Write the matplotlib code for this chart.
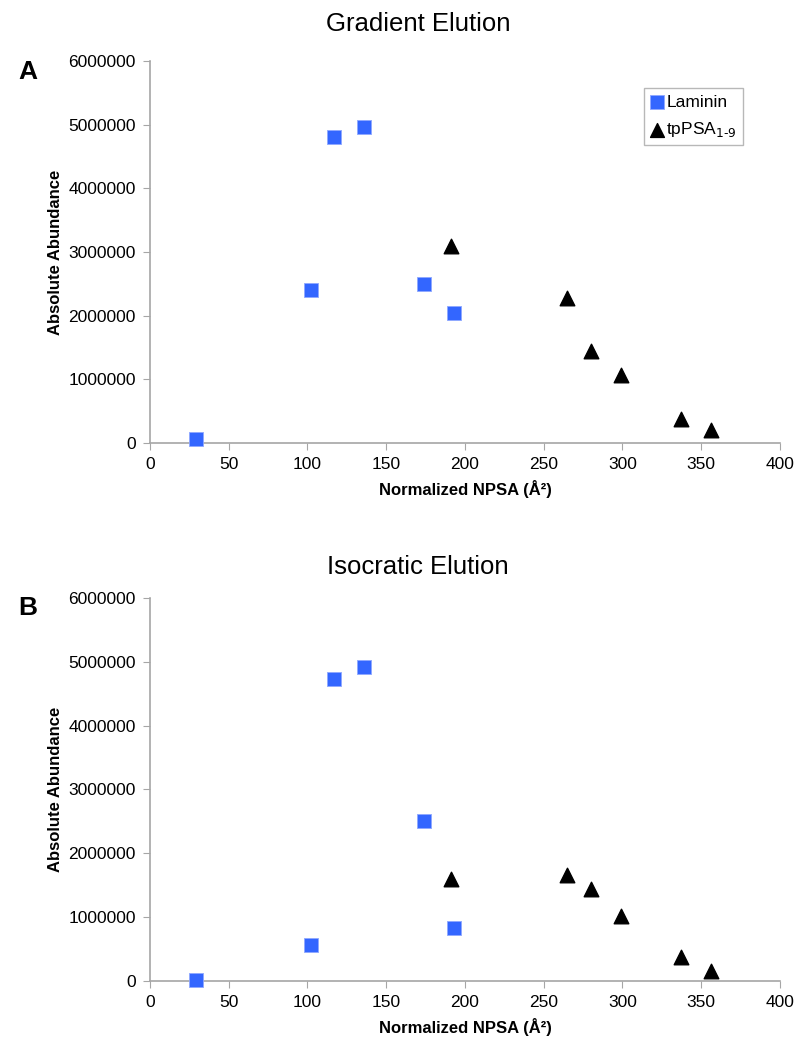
import matplotlib.pyplot as plt

plt.rcParams['font.family'] = ['Liberation Sans', 'DejaVu Sans']

# Gradient elution
grad_lam_x = [29, 102, 117, 136, 174, 193]
grad_lam_y = [72000, 2400000, 4810000, 4970000, 2500000, 2040000]
grad_tp_x = [191, 265, 280, 299, 337, 356]
grad_tp_y = [3100000, 2280000, 1450000, 1070000, 380000, 200000]

# Isocratic elution
iso_lam_x = [29, 102, 117, 136, 174, 193]
iso_lam_y = [20000, 560000, 4730000, 4920000, 2500000, 830000]
iso_tp_x = [191, 265, 280, 299, 337, 356]
iso_tp_y = [1600000, 1660000, 1440000, 1020000, 380000, 150000]

fig = plt.figure(figsize=(8.1, 10.5), dpi=100)
ax1 = fig.add_axes([0.185, 0.578, 0.778, 0.364])
ax2 = fig.add_axes([0.185, 0.0657, 0.778, 0.3648])

gray = '#a6a6a6'
panels = [
    (ax1, grad_lam_x, grad_lam_y, grad_tp_x, grad_tp_y, 'Gradient Elution', 'A', 24, 72),
    (ax2, iso_lam_x, iso_lam_y, iso_tp_x, iso_tp_y, 'Isocratic Elution', 'B', 567, 608),
]
for ax, lx, ly, tx, ty, title, letter, ty_px, ly_px in panels:
    ax.scatter(lx, ly, marker='s', s=115, color='#3366ff', edgecolors='#8fa8ff',
               linewidths=0.6, label='Laminin', zorder=3, clip_on=False)
    ax.scatter(tx, ty, marker='^', s=110, color='black', label='tpPSA$_{1\u20109}$',
               zorder=3, clip_on=False)
    ax.set_xlim(0, 400)
    ax.set_ylim(0, 6000000)
    ax.set_xticks(range(0, 401, 50))
    ax.set_yticks(range(0, 6000001, 1000000))
    ax.set_yticklabels([str(v) for v in range(0, 6000001, 1000000)])
    ax.spines['top'].set_visible(False)
    ax.spines['right'].set_visible(False)
    for s in ('left', 'bottom'):
        ax.spines[s].set_color(gray)
        ax.spines[s].set_linewidth(1.2)
    ax.tick_params(direction='out', length=5, color=gray, labelsize=12.5, pad=5)
    ax.set_xlabel('Normalized NPSA (Å²)', fontsize=12, fontweight='bold', labelpad=6)
    ax.set_ylabel('Absolute Abundance', fontsize=12, fontweight='bold', labelpad=4)
    fig.text(418 / 810, 1 - ty_px / 1050, title, fontsize=18.5, ha='center', va='center')
    fig.text(28 / 810, 1 - ly_px / 1050, letter, fontsize=19,
             fontweight='bold', va='center', ha='center')

leg = ax1.legend(loc='upper left', bbox_to_anchor=(0.784, 0.928), fontsize=12.5,
                 frameon=True, fancybox=False, edgecolor=gray, handletextpad=0.15,
                 handlelength=0.8, borderpad=0.35, labelspacing=0.6, scatterpoints=1,
                 borderaxespad=0, markerscale=0.95)
leg.get_frame().set_linewidth(1.0)

fig.savefig('out.png', dpi=100)
